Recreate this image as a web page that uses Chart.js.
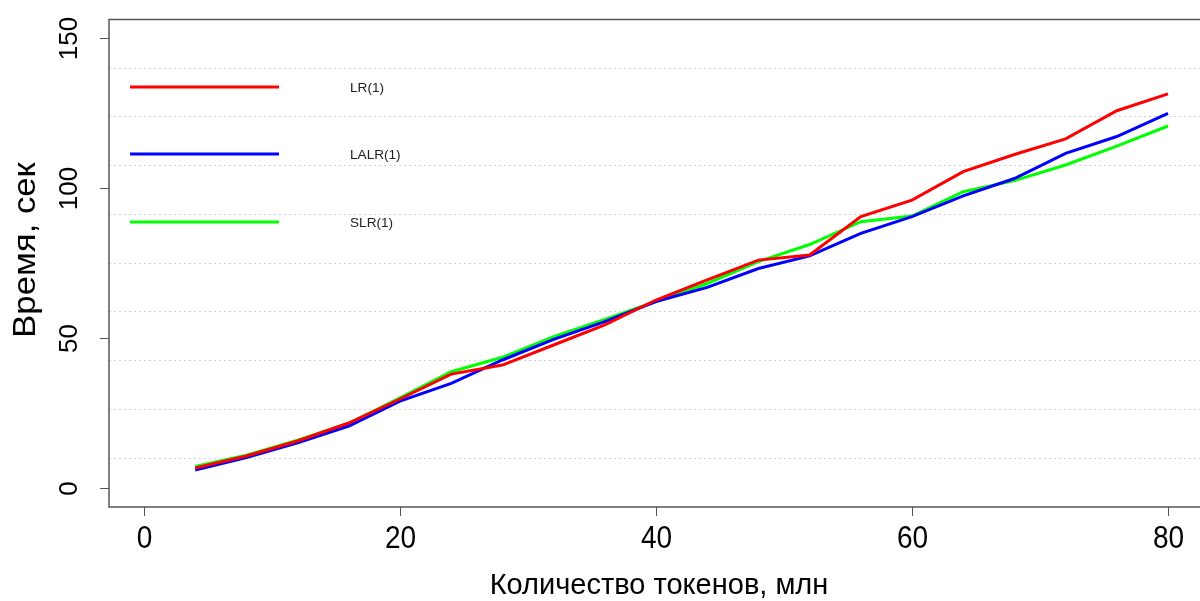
<!DOCTYPE html>
<html>
<head>
<meta charset="utf-8">
<script src="https://cdn.jsdelivr.net/npm/chart.js@4.4.1/dist/chart.umd.min.js"></script>
<style>
html,body{margin:0;padding:0;background:#fff;}
#wrap{width:1200px;height:601px;position:relative;}
</style>
</head>
<body>
<div id="wrap"><canvas id="c" width="1200" height="601"></canvas></div>
<script>
// ---- data ----
const tokens = [4, 8, 12, 16, 20, 24, 28, 32, 36, 40, 44, 48, 52, 56, 60, 64, 68, 72, 76, 80];
const lr   = [6.5, 10.5, 15.5, 21.5, 29.5, 37.8, 40.8, 47.5, 54.2, 62.5, 69.2, 75.8, 77.5, 90.3, 95.8, 105.3, 111.0, 116.2, 125.6, 131.2];
const lalr = [5.8, 10.0, 14.9, 20.5, 28.8, 34.7, 42.5, 49.4, 55.3, 62.0, 66.7, 73.0, 77.2, 84.7, 90.3, 97.2, 103.0, 111.4, 117.0, 124.7];
const slr  = [7.0, 10.8, 15.8, 21.4, 29.9, 38.6, 43.4, 50.3, 56.0, 62.0, 68.0, 75.3, 81.0, 88.6, 90.5, 98.6, 102.3, 107.5, 113.8, 120.5];
const seriesNames = ['LR(1)', 'LALR(1)', 'SLR(1)'];
const seriesColors = ['#ff0000', '#0000ff', '#00ff00'];
const xTicks = [0, 20, 40, 60, 80];
const yTicks = [0, 50, 100, 150];
const gridLevels = [10, 26.25, 42.5, 58.75, 75, 91.25, 107.5, 123.75, 140];
const xTitle = 'Количество токенов, млн';
const yTitle = 'Время, сек';

const toPts = arr => arr.map((v, i) => ({x: tokens[i], y: v}));
const seriesData = [lr, lalr, slr];

const FONT = '"Liberation Sans", Arial, sans-serif';

const decor = {
  id: 'decor',
  beforeDatasetsDraw(chart) {
    const {ctx, chartArea: a, scales: {x, y}} = chart;
    ctx.save();
    ctx.strokeStyle = '#d3d3d3';
    ctx.lineWidth = 1;
    ctx.setLineDash([2, 3]);
    gridLevels.forEach(v => {
      const py = Math.round(y.getPixelForValue(v)) + 0.5;
      ctx.beginPath(); ctx.moveTo(a.left, py); ctx.lineTo(a.right, py); ctx.stroke();
    });
    ctx.restore();
  },
  afterDatasetsDraw(chart) {
    const {ctx, chartArea: a, scales: {x, y}} = chart;
    ctx.save();
    // box
    ctx.strokeStyle = '#555555';
    ctx.lineWidth = 1.5;
    ctx.beginPath();
    ctx.moveTo(a.right + 20, a.top); ctx.lineTo(a.left, a.top);
    ctx.lineTo(a.left, a.bottom); ctx.lineTo(a.right + 20, a.bottom);
    ctx.stroke();
    // x ticks
    ctx.lineWidth = 1;
    ctx.strokeStyle = '#555555';
    ctx.fillStyle = '#000';
    ctx.font = '28px ' + FONT;
    ctx.textAlign = 'center';
    ctx.textBaseline = 'middle';
    xTicks.forEach(v => {
      const px = Math.round(x.getPixelForValue(v)) + 0.5;
      ctx.beginPath(); ctx.moveTo(px, a.bottom); ctx.lineTo(px, a.bottom + 9); ctx.stroke();
      ctx.save();
      ctx.translate(px, 540);
      ctx.scale(1, 1.1);
      ctx.fillText(String(v), 0, 0);
      ctx.restore();
    });
    // y ticks
    ctx.font = '26px ' + FONT;
    yTicks.forEach(v => {
      const py = Math.round(y.getPixelForValue(v)) + 0.5;
      ctx.beginPath(); ctx.moveTo(a.left, py); ctx.lineTo(a.left - 9, py); ctx.stroke();
      ctx.save();
      ctx.translate(70, py);
      ctx.rotate(-Math.PI / 2);
      ctx.fillText(String(v), 0, 0);
      ctx.restore();
    });
    // titles
    ctx.font = '29px ' + FONT;
    ctx.fillText(xTitle, 659, 586);
    ctx.save();
    ctx.translate(26, 250);
    ctx.rotate(-Math.PI / 2);
    ctx.font = '31px ' + FONT;
    ctx.scale(1.12, 1);
    ctx.fillText(yTitle, 0, 0);
    ctx.restore();
    // legend
    const ly = [87, 154, 222];
    ctx.font = '13.6px ' + FONT;
    ctx.textAlign = 'left';
    ctx.fillStyle = '#222';
    seriesNames.forEach((n, i) => {
      ctx.strokeStyle = seriesColors[i];
      ctx.lineWidth = 3;
      ctx.beginPath(); ctx.moveTo(130, ly[i]); ctx.lineTo(279, ly[i]); ctx.stroke();
      ctx.fillText(n, 350, ly[i] + 1.5);
    });
    ctx.restore();
  }
};

new Chart(document.getElementById('c'), {
  type: 'scatter',
  data: {
    datasets: seriesData.map((d, i) => ({
      label: seriesNames[i],
      data: toPts(d),
      showLine: true,
      borderColor: seriesColors[i],
      backgroundColor: seriesColors[i],
      borderWidth: 3,
      pointRadius: 0,
      tension: 0
    }))
  },
  options: {
    responsive: false,
    animation: false,
    devicePixelRatio: 1,
    layout: {padding: {left: 109, top: 19.5, right: 0, bottom: 94}},
    plugins: {legend: {display: false}, tooltip: {enabled: false}},
    scales: {
      x: {type: 'linear', display: false, min: -35 / 12.8, max: (1200 - 144) / 12.8},
      y: {type: 'linear', display: false, min: -6.5, max: 156}
    }
  },
  plugins: [decor]
});
</script>
</body>
</html>
